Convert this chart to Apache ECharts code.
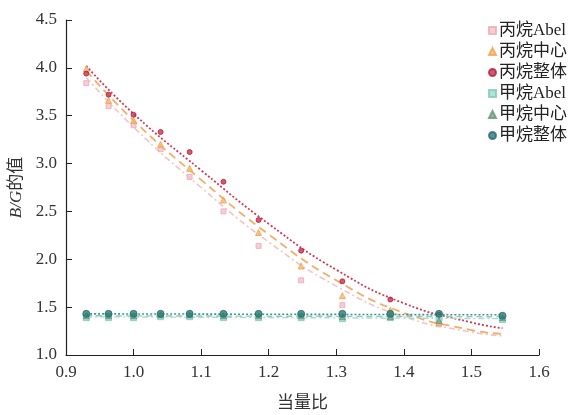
<!DOCTYPE html>
<html>
<head>
<meta charset="utf-8">
<script src="https://cdn.jsdelivr.net/npm/echarts@6/dist/echarts.min.js"></script>
<style>
  html, body { margin: 0; padding: 0; background: #fff; }
  #chart { width: 572px; height: 415px; }
</style>
</head>
<body>
<div id="chart"></div>
<script>
// measured points (equivalence ratio)
const phiPropane = [0.93, 0.963, 1.0, 1.04, 1.083, 1.133, 1.185, 1.248, 1.309, 1.38, 1.452];
const propaneAbel = [3.84, 3.60, 3.40, 3.15, 2.86, 2.50, 2.14, 1.78, 1.52, 1.42, 1.32];
const propaneCenter = [3.99, 3.66, 3.45, 3.20, 2.95, 2.62, 2.28, 1.93, 1.62, 1.47, 1.34];
const propaneWhole = [3.94, 3.72, 3.51, 3.33, 3.12, 2.81, 2.41, 2.09, 1.77, 1.58, 1.42];

const phiMethane = [0.93, 0.963, 1.0, 1.04, 1.083, 1.133, 1.185, 1.248, 1.309, 1.38, 1.452, 1.546];
const methaneAbel = [1.39, 1.39, 1.39, 1.40, 1.40, 1.39, 1.39, 1.39, 1.38, 1.39, 1.38, 1.37];
const methaneCenter = [1.41, 1.41, 1.41, 1.42, 1.42, 1.41, 1.41, 1.41, 1.40, 1.40, 1.36, 1.39];
const methaneWhole = [1.43, 1.43, 1.43, 1.43, 1.43, 1.43, 1.43, 1.43, 1.43, 1.43, 1.43, 1.41];

// fitted curves
const phiFit = [0.93, 1.0, 1.1, 1.2, 1.3, 1.4, 1.5, 1.546];
const fitPropaneAbel = [3.90, 3.38, 2.75, 2.18, 1.72, 1.40, 1.24, 1.20];
const fitPropaneCenter = [3.97, 3.45, 2.83, 2.26, 1.78, 1.44, 1.26, 1.22];
const fitPropaneWhole = [4.02, 3.52, 2.93, 2.37, 1.89, 1.54, 1.34, 1.28];
const phiFitMethane = [0.93, 1.546];
const fitMethaneAbel = [1.40, 1.38];
const fitMethaneCenter = [1.41, 1.40];
const fitMethaneWhole = [1.43, 1.42];

const xTicks = [0.9, 1.0, 1.1, 1.2, 1.3, 1.4, 1.5, 1.6];
const yTicks = [1.0, 1.5, 2.0, 2.5, 3.0, 3.5, 4.0, 4.5];

const serif = "'Liberation Serif', 'Noto Sans CJK SC', serif";

function pairs(xs, ys) {
  return xs.map((x, i) => [x, ys[i]]);
}

const pointSeries = [
  { name: '丙烷Abel', xs: phiPropane, ys: propaneAbel, symbol: 'rect', size: 5, color: '#f4c0ca', border: '#eeaab8' },
  { name: '丙烷中心', xs: phiPropane, ys: propaneCenter, symbol: 'triangle', size: 6, color: '#f4b868', border: '#eca450' },
  { name: '丙烷整体', xs: phiPropane, ys: propaneWhole, symbol: 'circle', size: 5, color: '#c8304e', border: '#b02040' },
  { name: '甲烷Abel', xs: phiMethane, ys: methaneAbel, symbol: 'rect', size: 6, color: '#9adccc', border: '#7ccab8' },
  { name: '甲烷中心', xs: phiMethane, ys: methaneCenter, symbol: 'triangle', size: 6, color: '#7aa88e', border: '#66947a' },
  { name: '甲烷整体', xs: phiMethane, ys: methaneWhole, symbol: 'circle', size: 7, color: '#1f8070', border: '#35607a' },
];

const fitSeries = [
  { xs: phiFit, ys: fitPropaneAbel, color: '#f6c2ca', type: [6, 3, 2, 3], width: 1.6 },
  { xs: phiFit, ys: fitPropaneCenter, color: '#f2ae68', type: [8, 5], width: 1.8 },
  { xs: phiFit, ys: fitPropaneWhole, color: '#d23a58', type: [2, 2], width: 1.8 },
  { xs: phiFitMethane, ys: fitMethaneAbel, color: '#a6dcd0', type: [6, 3, 2, 3], width: 1.4 },
  { xs: phiFitMethane, ys: fitMethaneCenter, color: '#9cc4ac', type: [6, 4], width: 1.4 },
  { xs: phiFitMethane, ys: fitMethaneWhole, color: '#2f9aa0', type: [2, 2], width: 1.6 },
];

const series = [];
fitSeries.forEach((f) => {
  series.push({
    type: 'line',
    data: pairs(f.xs, f.ys),
    smooth: true,
    showSymbol: false,
    silent: true,
    lineStyle: { color: f.color, width: f.width, type: f.type },
    z: 1,
  });
});
pointSeries.forEach((p) => {
  series.push({
    name: p.name,
    type: 'scatter',
    data: pairs(p.xs, p.ys),
    symbol: p.symbol,
    symbolSize: p.size,
    itemStyle: { color: p.color, borderColor: p.border, borderWidth: 1 },
    z: 3,
  });
});

const chart = echarts.init(document.getElementById('chart'), null, { renderer: 'canvas' });
chart.setOption({
  animation: false,
  backgroundColor: '#fff',
  textStyle: { fontFamily: serif },
  grid: { left: 66, right: 33, top: 20, bottom: 60, outerBoundsMode: 'none' },
  legend: {
    data: pointSeries.map((p) => p.name),
    orient: 'vertical',
    right: 0,
    top: 17,
    itemWidth: 7,
    itemHeight: 7,
    itemGap: 4,
    textStyle: { fontFamily: serif, fontSize: 17, color: '#222', padding: [0, 0, 0, -2] },
  },
  xAxis: {
    type: 'value',
    min: xTicks[0],
    max: xTicks[xTicks.length - 1],
    interval: 0.1,
    name: '当量比',
    nameLocation: 'middle',
    nameGap: 40,
    nameTextStyle: { fontFamily: serif, fontSize: 17, color: '#333' },
    axisLine: { lineStyle: { color: '#222', width: 1.2 } },
    axisTick: { inside: true, length: 6, lineStyle: { color: '#222' } },
    axisLabel: { fontSize: 17, color: '#333', margin: 9, formatter: (v) => v.toFixed(1) },
    splitLine: { show: false },
  },
  yAxis: {
    type: 'value',
    min: yTicks[0],
    max: yTicks[yTicks.length - 1],
    interval: 0.5,
    name: '{i|B/G}的值',
    nameLocation: 'middle',
    nameRotate: 90,
    nameGap: 36,
    nameTextStyle: {
      fontFamily: serif, fontSize: 17, color: '#333',
      rich: { i: { fontFamily: serif, fontSize: 17, fontStyle: 'italic', color: '#333' } },
    },
    axisLine: { show: true, lineStyle: { color: '#222', width: 1.2 } },
    axisTick: { show: true, inside: true, length: 6, lineStyle: { color: '#222' } },
    axisLabel: { fontSize: 17, color: '#333', margin: 9, formatter: (v) => v.toFixed(1) },
    splitLine: { show: false },
  },
  series: series,
});
</script>
</body>
</html>
